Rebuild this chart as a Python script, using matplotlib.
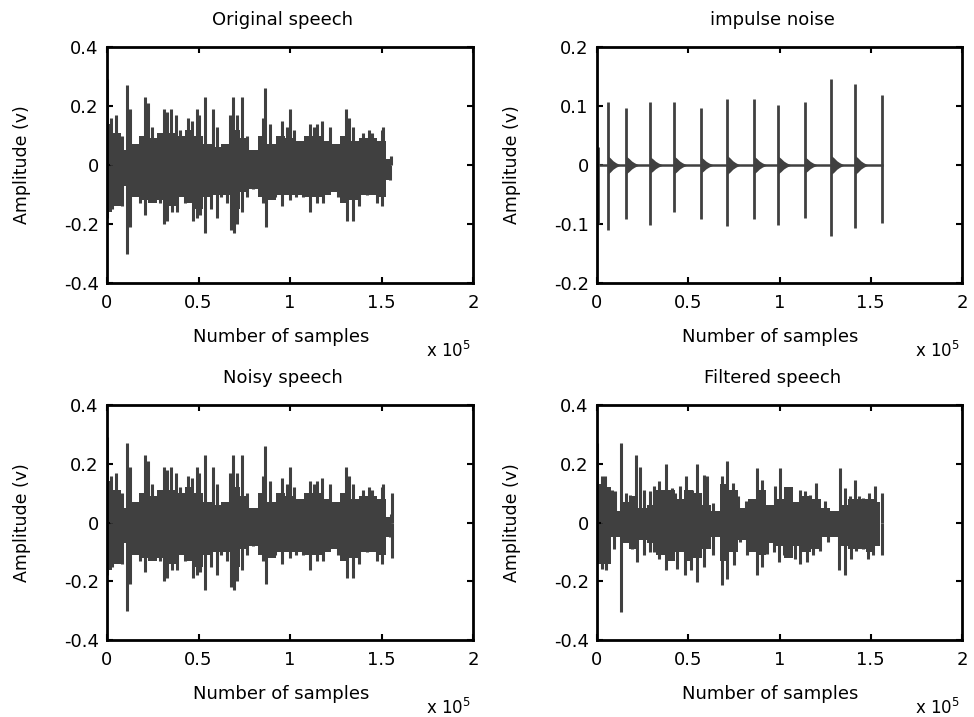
import matplotlib
matplotlib.use("Agg")
import matplotlib.pyplot as plt
import numpy as np

plt.rcParams['font.family'] = ['DejaVu Sans']

SCALE = 1e5
WAVE_COLOR = '#404040'

# ---------------- data (x in units of 1e5 samples) ----------------
# Original speech: step envelope of the dense body
body_x = [0.00, 0.05, 0.10, 0.15, 0.20, 0.25, 0.30, 0.35, 0.40, 0.45, 0.50,
          0.55, 0.60, 0.65, 0.70, 0.75, 0.80, 0.85, 0.90, 0.95, 1.00, 1.05,
          1.10, 1.15, 1.20, 1.25, 1.30, 1.35, 1.40, 1.45, 1.50, 1.55]
orig_hi = [0.14, 0.11, 0.05, 0.07, 0.10, 0.09, 0.11, 0.11, 0.10, 0.12, 0.10,
           0.07, 0.06, 0.07, 0.12, 0.09, 0.05, 0.10, 0.07, 0.10, 0.09, 0.08,
           0.10, 0.10, 0.08, 0.07, 0.10, 0.08, 0.09, 0.09, 0.08, 0.02]
orig_lo = [-0.16, -0.14, -0.07, -0.11, -0.12, -0.13, -0.12, -0.14, -0.11, -0.13, -0.15,
           -0.11, -0.10, -0.10, -0.15, -0.09, -0.08, -0.11, -0.12, -0.10, -0.10, -0.10,
           -0.11, -0.11, -0.10, -0.09, -0.13, -0.12, -0.10, -0.10, -0.11, -0.05]
orig_up_x = [0.00, 0.02, 0.05, 0.08, 0.11, 0.125, 0.21, 0.225, 0.245, 0.31, 0.33,
             0.35, 0.375, 0.40, 0.445, 0.465, 0.49, 0.505, 0.535, 0.58, 0.60, 0.67,
             0.69, 0.71, 0.74, 0.765, 0.855, 0.865, 0.89, 0.955, 0.985, 1.00, 1.02,
             1.11, 1.13, 1.145, 1.175, 1.22, 1.305, 1.32, 1.345, 1.40, 1.43, 1.45,
             1.50, 1.51, 1.55]
orig_up_v = [0.29, 0.16, 0.17, 0.10, 0.27, 0.19, 0.23, 0.21, 0.13, 0.19, 0.18,
             0.19, 0.17, 0.12, 0.16, 0.15, 0.19, 0.17, 0.23, 0.19, 0.13, 0.17,
             0.23, 0.17, 0.23, 0.10, 0.16, 0.26, 0.14, 0.15, 0.13, 0.19, 0.12,
             0.14, 0.13, 0.14, 0.15, 0.13, 0.19, 0.16, 0.13, 0.11, 0.12, 0.11,
             0.12, 0.13, 0.03]
orig_dn_x = [0.00, 0.03, 0.08, 0.11, 0.125, 0.18, 0.21, 0.29, 0.31, 0.33, 0.355,
             0.38, 0.425, 0.47, 0.49, 0.51, 0.535, 0.57, 0.60, 0.625, 0.655, 0.68,
             0.695, 0.71, 0.735, 0.765, 0.80, 0.855, 0.87, 0.92, 0.955, 1.00, 1.035,
             1.07, 1.11, 1.145, 1.18, 1.265, 1.31, 1.345, 1.375, 1.42, 1.475, 1.50,
             1.545]
orig_dn_v = [-0.18, -0.15, -0.14, -0.30, -0.21, -0.13, -0.17, -0.13, -0.20, -0.19, -0.16,
             -0.16, -0.13, -0.19, -0.18, -0.17, -0.23, -0.15, -0.18, -0.11, -0.13, -0.22,
             -0.23, -0.20, -0.16, -0.11, -0.08, -0.13, -0.21, -0.11, -0.14, -0.12, -0.11,
             -0.11, -0.16, -0.13, -0.13, -0.11, -0.19, -0.19, -0.14, -0.10, -0.13, -0.14,
             -0.05]

# Noisy speech: the speech plus the last impulse visible at the end
noisy_extra_x = [1.56]
noisy_extra_up = [0.10]
noisy_extra_dn = [-0.12]

# Impulse noise
imp_x = [0.005, 0.058, 0.160, 0.291, 0.423, 0.568, 0.714, 0.860, 0.993, 1.138, 1.284, 1.415, 1.563]
imp_up = [0.03, 0.107, 0.097, 0.107, 0.107, 0.097, 0.112, 0.112, 0.102, 0.107, 0.146, 0.137, 0.118]
imp_dn = [-0.10, -0.110, -0.092, -0.102, -0.080, -0.092, -0.103, -0.092, -0.102, -0.089, -0.120, -0.107, -0.098]
imp_tail_amp = [0.0, 0.016, 0.015, 0.014, 0.015, 0.014, 0.016, 0.015, 0.015, 0.014, 0.016, 0.016, 0.0]
imp_tail_len = 0.075
imp_tail_profile = [1.0, 0.75, 0.45, 0.25, 0.1, 0.0]

# Filtered speech
filt_hi = [0.13, 0.12, 0.04, 0.07, 0.09, 0.05, 0.06, 0.11, 0.11, 0.08, 0.11,
           0.10, 0.06, 0.04, 0.13, 0.11, 0.05, 0.08, 0.11, 0.06, 0.08, 0.12,
           0.07, 0.09, 0.08, 0.05, 0.04, 0.06, 0.08, 0.08, 0.08, 0.07]
filt_lo = [-0.14, -0.14, -0.05, -0.07, -0.09, -0.06, -0.07, -0.11, -0.13, -0.10, -0.13,
           -0.12, -0.09, -0.05, -0.13, -0.10, -0.06, -0.10, -0.11, -0.07, -0.08, -0.12,
           -0.08, -0.10, -0.09, -0.05, -0.05, -0.08, -0.09, -0.09, -0.10, -0.08]
filt_up_x = [0.0, 0.027, 0.046, 0.082, 0.10, 0.131, 0.158, 0.182, 0.215, 0.233, 0.255,
             0.288, 0.313, 0.337, 0.379, 0.41, 0.428, 0.455, 0.488, 0.519, 0.55, 0.588,
             0.60, 0.637, 0.683, 0.714, 0.747, 0.774, 0.816, 0.874, 0.902, 0.938, 0.974,
             1.005, 1.029, 1.06, 1.111, 1.138, 1.166, 1.199, 1.248, 1.29, 1.33, 1.357,
             1.384, 1.415, 1.435, 1.457, 1.49, 1.521, 1.563]
filt_up_v = [0.27, 0.157, 0.157, 0.112, 0.107, 0.27, 0.10, 0.095, 0.23, 0.19, 0.11,
             0.107, 0.124, 0.14, 0.20, 0.118, 0.10, 0.124, 0.157, 0.112, 0.20, 0.163,
             0.157, 0.067, 0.157, 0.208, 0.135, 0.09, 0.073, 0.185, 0.146, 0.039, 0.124,
             0.185, 0.118, 0.09, 0.112, 0.107, 0.095, 0.135, 0.073, 0.028, 0.185, 0.118,
             0.09, 0.146, 0.09, 0.084, 0.10, 0.124, 0.10]
filt_dn_x = [0.027, 0.051, 0.091, 0.131, 0.164, 0.191, 0.219, 0.255, 0.288, 0.313, 0.341,
             0.379, 0.41, 0.437, 0.483, 0.514, 0.55, 0.587, 0.637, 0.687, 0.71, 0.75,
             0.783, 0.82, 0.874, 0.902, 0.929, 0.971, 0.998, 1.024, 1.057, 1.084, 1.111,
             1.148, 1.184, 1.22, 1.266, 1.326, 1.357, 1.393, 1.421, 1.457, 1.485, 1.512,
             1.563]
filt_dn_v = [-0.157, -0.163, -0.09, -0.303, -0.062, -0.09, -0.135, -0.112, -0.10, -0.10, -0.124,
             -0.163, -0.118, -0.157, -0.18, -0.163, -0.202, -0.152, -0.112, -0.213, -0.191, -0.146,
             -0.067, -0.112, -0.18, -0.152, -0.107, -0.10, -0.135, -0.112, -0.112, -0.124, -0.14,
             -0.135, -0.112, -0.096, -0.067, -0.163, -0.18, -0.124, -0.096, -0.09, -0.124, -0.112,
             -0.112]

x_ticks = [0, 0.5, 1, 1.5, 2]
x_tick_labels = ['0', '0.5', '1', '1.5', '2']
speech_yticks = [-0.4, -0.2, 0, 0.2, 0.4]
speech_ytick_labels = ['-0.4', '-0.2', '0', '0.2', '0.4']
imp_yticks = [-0.2, -0.1, 0, 0.1, 0.2]
imp_ytick_labels = ['-0.2', '-0.1', '0', '0.1', '0.2']
titles = ['Original speech', 'impulse noise', 'Noisy speech', 'Filtered speech']

# ---------------- figure ----------------
fig = plt.figure(figsize=(9.74, 7.17), dpi=100)
W, H = 974, 717
def axes_px(l, t, r, b):
    return fig.add_axes([l / W, 1 - b / H, (r - l) / W, (b - t) / H])

ax_tl = axes_px(107, 47, 473, 283)
ax_tr = axes_px(597, 47, 962, 283)
ax_bl = axes_px(107, 405, 473, 640)
ax_br = axes_px(597, 405, 962, 640)

FS = 13

def style(ax, title, yticks, ylabels, ylim):
    ax.set_xlim(0, 2 * SCALE)
    ax.set_ylim(*ylim)
    ax.set_xticks([t * SCALE for t in x_ticks])
    ax.set_xticklabels(x_tick_labels)
    ax.set_yticks(yticks)
    ax.set_yticklabels(ylabels)
    ax.tick_params(direction='in', length=4, width=1.5, top=True, right=True,
                   labelsize=FS, colors='black')
    ax.tick_params(axis='x', pad=8)
    ax.tick_params(axis='y', pad=6)
    for s in ax.spines.values():
        s.set_linewidth(2)
        s.set_color('black')
    ax.text(0.48, 1.115, title, transform=ax.transAxes, ha='center', va='center', fontsize=FS)
    ax.text(0.475, -0.228, 'Number of samples', transform=ax.transAxes, ha='center', va='center',
            fontsize=FS)
    ax.text(0.995, -0.29, r'x 10$^{5}$', transform=ax.transAxes, ha='right', va='center',
            fontsize=FS - 1)
    ax.text(-0.232, 0.5, 'Amplitude (v)', transform=ax.transAxes, ha='center', va='center',
            rotation=90, fontsize=FS - 0.5)

def draw_speech(ax, hi, lo, ux, uv, dx, dv):
    bx = np.array(body_x) * SCALE
    ax.fill_between(bx, lo, hi, step='mid', color=WAVE_COLOR, lw=0)
    ax.vlines(np.array(ux) * SCALE, 0, uv, color=WAVE_COLOR, lw=2.2)
    ax.vlines(np.array(dx) * SCALE, dv, 0, color=WAVE_COLOR, lw=2.2)

# Original speech
draw_speech(ax_tl, orig_hi, orig_lo, orig_up_x, orig_up_v, orig_dn_x, orig_dn_v)
style(ax_tl, titles[0], speech_yticks, speech_ytick_labels, (-0.4, 0.4))

# Impulse noise
ax_tr.plot([0, imp_x[-1] * SCALE], [0, 0], color=WAVE_COLOR, lw=1.8)
ax_tr.vlines(np.array(imp_x) * SCALE, imp_dn, imp_up, color=WAVE_COLOR, lw=2.0)
prof = np.array(imp_tail_profile)
tx = np.linspace(0, imp_tail_len, len(prof))
for x0, a in zip(imp_x, imp_tail_amp):
    if a > 0:
        ax_tr.fill_between((x0 + tx) * SCALE, -a * prof, a * prof, color=WAVE_COLOR, lw=0)
style(ax_tr, titles[1], imp_yticks, imp_ytick_labels, (-0.2, 0.2))

# Noisy speech
draw_speech(ax_bl, orig_hi, orig_lo, orig_up_x + noisy_extra_x, orig_up_v + noisy_extra_up,
            orig_dn_x + noisy_extra_x, orig_dn_v + noisy_extra_dn)
style(ax_bl, titles[2], speech_yticks, speech_ytick_labels, (-0.4, 0.4))

# Filtered speech
draw_speech(ax_br, filt_hi, filt_lo, filt_up_x, filt_up_v, filt_dn_x, filt_dn_v)
style(ax_br, titles[3], speech_yticks, speech_ytick_labels, (-0.4, 0.4))

fig.savefig('out.png', dpi=100, facecolor='white')
